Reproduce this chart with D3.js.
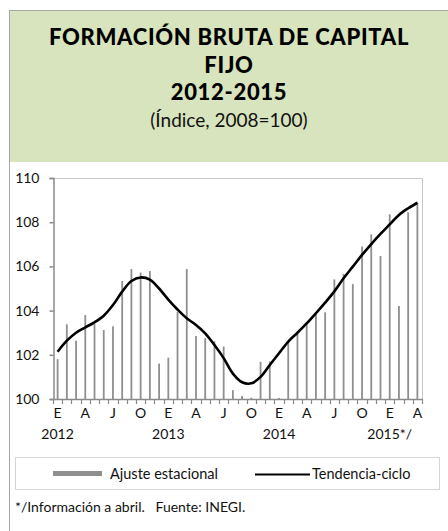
<!DOCTYPE html>
<html>
<head>
<meta charset="utf-8">
<script src="https://cdn.jsdelivr.net/npm/d3@7"></script>
<style>
  html, body { margin: 0; padding: 0; background: #fff; }
  svg { display: block; font-family: Lato, "Open Sans", sans-serif; }
</style>
</head>
<body>
<svg id="chart" width="448" height="531"></svg>
<script>
// ---- Data ----
const monthLetters = ["E","F","M","A","M","J","J","A","S","O","N","D"];
const years = ["2012", "2013", "2014", "2015*/"];
const ajusteEstacional = [
  101.80, 103.38, 102.64, 103.80, 103.38, 103.12, 103.29, 105.34, 105.88, 105.72, 105.79, 101.60,
  101.87, 103.95, 105.88, 102.85, 102.75, 102.62, 102.37, 100.40, 100.14, 100.06, 101.68, 101.70,
  100.05, 102.60, 102.95, 103.39, 103.83, 103.92, 105.41, 105.66, 105.20, 106.90, 107.45, 106.47,
  108.36, 104.21, 108.45, 108.88
];
const tendenciaCiclo = [
  102.14, 102.64, 103.00, 103.24, 103.47, 103.77, 104.25, 104.86, 105.34, 105.50, 105.40, 105.00,
  104.50, 104.05, 103.65, 103.35, 102.97, 102.44, 101.85, 101.15, 100.76, 100.71, 101.00, 101.54,
  102.07, 102.60, 103.00, 103.42, 103.88, 104.36, 104.87, 105.46, 105.99, 106.52, 107.01, 107.47,
  107.90, 108.33, 108.63, 108.88
];
const yTicks = [100, 102, 104, 106, 108, 110];
const titleLines = ["FORMACIÓN BRUTA DE CAPITAL", "FIJO", "2012-2015"];
const subtitle = "(Índice, 2008=100)";
const legendLabels = ["Ajuste estacional", "Tendencia-ciclo"];
const footnote = "*/Información a abril.   Fuente: INEGI.";

// ---- Layout ----
const svg = d3.select("#chart");
const plot = { left: 53, right: 422, top: 178, bottom: 399 };
const grayAxis = "#8a8a8a";
const barColor = "#8f8f8f";

// outer frame + header
svg.append("rect").attr("x", 9.5).attr("y", 10.5).attr("width", 460).attr("height", 540)
  .attr("fill", "#fff").attr("stroke", "#a6a6a6").attr("stroke-width", 1);
svg.append("rect").attr("x", 10).attr("y", 11).attr("width", 440).attr("height", 151)
  .attr("fill", "#d7e4bd");

const cx = 229;
svg.selectAll("text.title").data(titleLines).enter().append("text")
  .attr("class", "title")
  .attr("x", cx).attr("y", (d, i) => [45, 73, 100][i])
  .attr("text-anchor", "middle").attr("font-weight", 900).attr("font-size", 22)
  .attr("letter-spacing", 0.7)
  .attr("fill", "#000").text(d => d);
svg.append("text").attr("x", cx).attr("y", 127).attr("text-anchor", "middle")
  .attr("font-size", 19).attr("fill", "#111").text(subtitle);

// scales
const idx = d3.range(ajusteEstacional.length);
const x = d3.scaleBand().domain(idx).range([plot.left, plot.right]).paddingInner(0).paddingOuter(0);
const y = d3.scaleLinear().domain([100, 110]).range([plot.bottom, plot.top]);
const xc = i => x(i) + x.bandwidth() / 2;

// plot frame (top/right light border)
svg.append("path")
  .attr("d", `M${plot.left},${plot.top + 0.5}H${plot.right + 0.5}V${plot.bottom}`)
  .attr("fill", "none").attr("stroke", "#c8c8c8").attr("stroke-width", 1);

// bars
svg.append("g").selectAll("rect").data(ajusteEstacional).enter().append("rect")
  .attr("x", (d, i) => xc(i) - 0.9)
  .attr("width", 1.8)
  .attr("y", d => y(d))
  .attr("height", d => Math.max(0, y(100) - y(d)))
  .attr("fill", barColor);

// trend line
const line = d3.line().x((d, i) => xc(i)).y(d => y(d)).curve(d3.curveCatmullRom.alpha(0.5));
svg.append("path").datum(tendenciaCiclo).attr("d", line)
  .attr("fill", "none").attr("stroke", "#000").attr("stroke-width", 2.6)
  .attr("stroke-linejoin", "round");

// y axis
const yAxis = d3.axisLeft(y).tickValues(yTicks).tickSize(4).tickPadding(10).tickFormat(d3.format("d"));
const gy = svg.append("g").attr("transform", `translate(${plot.left + 0.5},0)`).call(yAxis);
gy.select(".domain").attr("stroke", grayAxis).attr("stroke-width", 1.5);
gy.selectAll(".tick line").attr("stroke", grayAxis).attr("stroke-width", 1.5);
gy.selectAll(".tick text").attr("font-size", 14).attr("fill", "#111")
  .attr("font-family", "Lato, sans-serif");

// x axis: ticks at band boundaries
const gx = svg.append("g");
gx.append("line").attr("x1", plot.left).attr("x2", plot.right + 1)
  .attr("y1", plot.bottom + 0.5).attr("y2", plot.bottom + 0.5)
  .attr("stroke", grayAxis).attr("stroke-width", 1.5);
const boundaries = d3.range(ajusteEstacional.length + 1).map(k => k < ajusteEstacional.length ? x(k) : plot.right);
gx.selectAll("line.tk").data(boundaries).enter().append("line")
  .attr("class", "tk")
  .attr("x1", d => Math.round(d) + 0.5).attr("x2", d => Math.round(d) + 0.5)
  .attr("y1", plot.bottom).attr("y2", plot.bottom + 5)
  .attr("stroke", grayAxis).attr("stroke-width", 1.2);
gx.selectAll("text.m").data(idx.filter(i => i % 3 === 0)).enter().append("text")
  .attr("class", "m")
  .attr("x", i => xc(i)).attr("y", 418).attr("text-anchor", "middle")
  .attr("font-size", 14).attr("fill", "#111")
  .text(i => monthLetters[i % 12]);
gx.selectAll("text.yr").data(years).enter().append("text")
  .attr("class", "yr")
  .attr("x", (d, i) => xc(i * 12)).attr("y", 439).attr("text-anchor", "middle")
  .attr("font-size", 14).attr("fill", "#111")
  .text(d => d);

// legend
svg.append("rect").attr("x", 15.5).attr("y", 457.5).attr("width", 424).attr("height", 32)
  .attr("fill", "#fff").attr("stroke", "#d4d4d4");
svg.append("rect").attr("x", 53).attr("y", 471).attr("width", 49).attr("height", 5).attr("fill", barColor);
svg.append("text").attr("x", 110).attr("y", 479).attr("font-size", 14.5).attr("fill", "#111").text(legendLabels[0]);
svg.append("line").attr("x1", 255).attr("x2", 310).attr("y1", 474.5).attr("y2", 474.5)
  .attr("stroke", "#000").attr("stroke-width", 2.2);
svg.append("text").attr("x", 312).attr("y", 479).attr("font-size", 14.5).attr("fill", "#111").text(legendLabels[1]);

// footnote
svg.append("text").attr("x", 15).attr("y", 512).attr("font-size", 14).attr("fill", "#111")
  .attr("xml:space", "preserve").style("white-space", "pre").text(footnote);
</script>
</body>
</html>
